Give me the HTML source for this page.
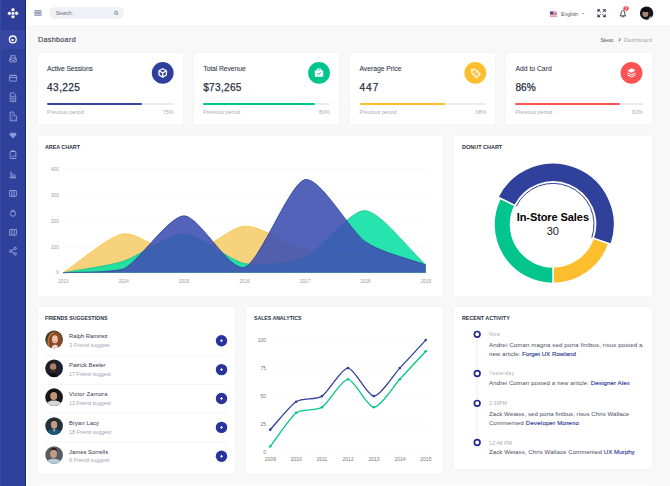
<!DOCTYPE html><html><head><meta charset="utf-8"><style>
*{margin:0;padding:0;box-sizing:border-box}
html,body{width:670px;height:486px;overflow:hidden;background:#f8f8f8;font-family:"Liberation Sans",sans-serif;position:relative}
.a{position:absolute;white-space:nowrap}
.card{position:absolute;background:#fff;box-shadow:0 0 2px rgba(40,40,60,.06)}
svg.full{position:absolute;left:0;top:0;width:670px;height:486px;overflow:visible}
</style></head><body>
<div class="a" style="left:0;top:0;width:26px;height:486px;background:#30419b"></div>
<div class="a" style="left:0;top:0;width:25px;height:29.5px;background:#2e3e98"></div>
<div class="a" style="left:0;top:29.5px;width:25px;height:19.5px;background:#3647a4"></div>
<div class="a" style="left:25px;top:0;width:1px;height:486px;background:#12268f"></div>
<div class="a" style="left:0;top:0;width:1px;height:486px;background:#3848a3"></div>
<div class="a" style="left:26px;top:0;width:2px;height:486px;background:#fff"></div>
<div class="a" style="left:26px;top:0;width:644px;height:26px;background:#fff;box-shadow:0 .5px 1.5px rgba(0,0,0,.05)"></div>
<div class="card" style="left:37.60px;top:52.90px;width:145.00px;height:71.60px"></div>
<div class="card" style="left:193.70px;top:52.90px;width:145.20px;height:71.60px"></div>
<div class="card" style="left:350.00px;top:52.90px;width:145.20px;height:71.60px"></div>
<div class="card" style="left:505.90px;top:52.90px;width:146.00px;height:71.60px"></div>
<div class="card" style="left:37.60px;top:136.10px;width:405.70px;height:159.90px"></div>
<div class="card" style="left:453.60px;top:136.10px;width:198.30px;height:159.90px"></div>
<div class="card" style="left:37.60px;top:307.00px;width:197.60px;height:166.60px"></div>
<div class="card" style="left:245.70px;top:307.00px;width:197.60px;height:166.60px"></div>
<div class="card" style="left:453.60px;top:307.00px;width:198.30px;height:162.40px"></div>
<div class="a" style="left:37.6px;top:484px;width:614.3px;height:4px;background:#fbfbfb;box-shadow:0 0 1.5px rgba(40,40,60,.06)"></div>
<div class="a" style="left:49px;top:7px;width:75.2px;height:12.4px;border-radius:6.2px;background:#eef1f6"></div>
<div class="a" style="left:55.70px;top:11.00px;font-size:5.40px;line-height:5.40px;color:#6f7585;font-weight:normal;letter-spacing:-0.187px;">Search..</div>
<div class="a" style="left:561.00px;top:12.00px;font-size:5.30px;line-height:5.30px;color:#555b6b;font-weight:normal;letter-spacing:-0.064px;">English</div>
<div class="a" style="left:37.90px;top:36.00px;font-size:7.20px;line-height:7.20px;color:#343a4c;font-weight:normal;letter-spacing:0.322px;-webkit-text-stroke:0.12px #343a4c;">Dashboard</div>
<div class="a" style="left:600.50px;top:38.00px;font-size:5.30px;line-height:5.30px;color:#50566a;font-weight:normal;letter-spacing:-0.188px;">Stexo</div>
<div class="a" style="left:624.00px;top:38.00px;font-size:5.30px;line-height:5.30px;color:#a0a4b2;font-weight:normal;letter-spacing:0.209px;">Dashboard</div>
<div class="a" style="left:47.10px;top:66.00px;font-size:6.80px;line-height:6.80px;color:#2a3142;font-weight:normal;letter-spacing:-0.150px;-webkit-text-stroke:0.05px #2a3142;">Active Sessions</div>
<div class="a" style="left:47.10px;top:83.00px;font-size:10.10px;line-height:10.10px;color:#2a3142;font-weight:normal;letter-spacing:0.402px;-webkit-text-stroke:0.25px #2a3142;">43,225</div>
<div class="a" style="left:47.10px;top:103.3px;width:126.50px;height:2px;background:#e9ecf3;border-radius:1px"></div>
<div class="a" style="left:47.10px;top:103.3px;width:94.88px;height:2px;background:#3546a6;border-radius:1px"></div>
<div class="a" style="left:47.10px;top:110.00px;font-size:5.40px;line-height:5.40px;color:#a9adba;font-weight:normal;letter-spacing:-0.037px;">Previous period</div>
<div class="a" style="right:496.40px;top:110.00px;font-size:5.40px;line-height:5.40px;color:#a9adba;font-weight:normal;letter-spacing:0.000px;">75%</div>
<div class="a" style="left:203.20px;top:66.00px;font-size:6.80px;line-height:6.80px;color:#2a3142;font-weight:normal;letter-spacing:-0.073px;-webkit-text-stroke:0.05px #2a3142;">Total Revenue</div>
<div class="a" style="left:203.20px;top:83.00px;font-size:10.10px;line-height:10.10px;color:#2a3142;font-weight:normal;letter-spacing:0.299px;-webkit-text-stroke:0.25px #2a3142;">$73,265</div>
<div class="a" style="left:203.20px;top:103.3px;width:126.70px;height:2px;background:#e9ecf3;border-radius:1px"></div>
<div class="a" style="left:203.20px;top:103.3px;width:112.00px;height:2px;background:#02c58d;border-radius:1px"></div>
<div class="a" style="left:203.20px;top:110.00px;font-size:5.40px;line-height:5.40px;color:#a9adba;font-weight:normal;letter-spacing:-0.037px;">Previous period</div>
<div class="a" style="right:340.10px;top:110.00px;font-size:5.40px;line-height:5.40px;color:#a9adba;font-weight:normal;letter-spacing:0.000px;">80%</div>
<div class="a" style="left:359.50px;top:66.00px;font-size:6.80px;line-height:6.80px;color:#2a3142;font-weight:normal;letter-spacing:-0.040px;-webkit-text-stroke:0.05px #2a3142;">Average Price</div>
<div class="a" style="left:359.50px;top:83.00px;font-size:10.10px;line-height:10.10px;color:#2a3142;font-weight:normal;letter-spacing:0.975px;-webkit-text-stroke:0.25px #2a3142;">447</div>
<div class="a" style="left:359.50px;top:103.3px;width:126.70px;height:2px;background:#e9ecf3;border-radius:1px"></div>
<div class="a" style="left:359.50px;top:103.3px;width:85.90px;height:2px;background:#fcbe2d;border-radius:1px"></div>
<div class="a" style="left:359.50px;top:110.00px;font-size:5.40px;line-height:5.40px;color:#a9adba;font-weight:normal;letter-spacing:-0.037px;">Previous period</div>
<div class="a" style="right:183.80px;top:110.00px;font-size:5.40px;line-height:5.40px;color:#a9adba;font-weight:normal;letter-spacing:0.000px;">68%</div>
<div class="a" style="left:515.40px;top:66.00px;font-size:6.80px;line-height:6.80px;color:#2a3142;font-weight:normal;letter-spacing:0.001px;-webkit-text-stroke:0.05px #2a3142;">Add to Card</div>
<div class="a" style="left:515.40px;top:83.00px;font-size:10.10px;line-height:10.10px;color:#2a3142;font-weight:normal;letter-spacing:0.043px;-webkit-text-stroke:0.25px #2a3142;">86%</div>
<div class="a" style="left:515.40px;top:103.3px;width:127.50px;height:2px;background:#e9ecf3;border-radius:1px"></div>
<div class="a" style="left:515.40px;top:103.3px;width:105.06px;height:2px;background:#fc5454;border-radius:1px"></div>
<div class="a" style="left:515.40px;top:110.00px;font-size:5.40px;line-height:5.40px;color:#a9adba;font-weight:normal;letter-spacing:-0.037px;">Previous period</div>
<div class="a" style="right:27.10px;top:110.00px;font-size:5.40px;line-height:5.40px;color:#a9adba;font-weight:normal;letter-spacing:0.000px;">82%</div>
<div class="a" style="left:45.20px;top:144.00px;font-size:6.20px;line-height:6.20px;color:#2a3142;font-weight:bold;letter-spacing:0.000px;transform:scaleX(0.8587);transform-origin:0 0;">AREA CHART</div>
<div class="a" style="left:462.00px;top:144.00px;font-size:6.20px;line-height:6.20px;color:#2a3142;font-weight:bold;letter-spacing:0.000px;transform:scaleX(0.8865);transform-origin:0 0;">DONUT CHART</div>
<div class="a" style="left:45.20px;top:315.00px;font-size:6.20px;line-height:6.20px;color:#2a3142;font-weight:bold;letter-spacing:0.000px;transform:scaleX(0.8399);transform-origin:0 0;">FRIENDS SUGGESTIONS</div>
<div class="a" style="left:254.00px;top:315.00px;font-size:6.20px;line-height:6.20px;color:#2a3142;font-weight:bold;letter-spacing:0.000px;transform:scaleX(0.8323);transform-origin:0 0;">SALES ANALYTICS</div>
<div class="a" style="left:462.20px;top:315.00px;font-size:6.20px;line-height:6.20px;color:#2a3142;font-weight:bold;letter-spacing:0.000px;transform:scaleX(0.8655);transform-origin:0 0;">RECENT ACTIVITY</div>
<div class="a" style="right:611.20px;top:271.00px;font-size:4.70px;line-height:4.70px;color:#9a9a9a;font-weight:normal;letter-spacing:0.000px;">0</div>
<div class="a" style="right:611.20px;top:246.00px;font-size:4.70px;line-height:4.70px;color:#9a9a9a;font-weight:normal;letter-spacing:0.000px;">100</div>
<div class="a" style="right:611.20px;top:220.00px;font-size:4.70px;line-height:4.70px;color:#9a9a9a;font-weight:normal;letter-spacing:0.000px;">200</div>
<div class="a" style="right:611.20px;top:194.00px;font-size:4.70px;line-height:4.70px;color:#9a9a9a;font-weight:normal;letter-spacing:0.000px;">300</div>
<div class="a" style="right:611.20px;top:168.00px;font-size:4.70px;line-height:4.70px;color:#9a9a9a;font-weight:normal;letter-spacing:0.000px;">400</div>
<div class="a" style="left:58.20px;top:280.00px;font-size:4.60px;line-height:4.60px;color:#9a9a9a;font-weight:normal;letter-spacing:0.000px;">2013</div>
<div class="a" style="left:118.65px;top:280.00px;font-size:4.60px;line-height:4.60px;color:#9a9a9a;font-weight:normal;letter-spacing:0.000px;">2014</div>
<div class="a" style="left:179.10px;top:280.00px;font-size:4.60px;line-height:4.60px;color:#9a9a9a;font-weight:normal;letter-spacing:0.000px;">2015</div>
<div class="a" style="left:239.55px;top:280.00px;font-size:4.60px;line-height:4.60px;color:#9a9a9a;font-weight:normal;letter-spacing:0.000px;">2016</div>
<div class="a" style="left:300.00px;top:280.00px;font-size:4.60px;line-height:4.60px;color:#9a9a9a;font-weight:normal;letter-spacing:0.000px;">2017</div>
<div class="a" style="left:360.45px;top:280.00px;font-size:4.60px;line-height:4.60px;color:#9a9a9a;font-weight:normal;letter-spacing:0.000px;">2018</div>
<div class="a" style="left:420.90px;top:280.00px;font-size:4.60px;line-height:4.60px;color:#9a9a9a;font-weight:normal;letter-spacing:0.000px;">2019</div>
<div class="a" style="left:516.70px;top:212.00px;font-size:11.00px;line-height:11.00px;color:#000;font-weight:bold;letter-spacing:-0.081px;">In-Store Sales</div>
<div class="a" style="left:546.70px;top:226.00px;font-size:11.00px;line-height:11.00px;color:#222;font-weight:normal;letter-spacing:0.066px;">30</div>
<div class="a" style="left:69.10px;top:334.00px;font-size:5.80px;line-height:5.80px;color:#41475a;font-weight:normal;letter-spacing:-0.005px;-webkit-text-stroke:0.04px #41475a;">Ralph Ramirez</div>
<div class="a" style="left:69.10px;top:343.00px;font-size:5.40px;line-height:5.40px;color:#a3a7b5;font-weight:normal;letter-spacing:0.025px;">3 Friend suggest</div>
<div class="a" style="left:69.10px;top:363.00px;font-size:5.80px;line-height:5.80px;color:#41475a;font-weight:normal;letter-spacing:0.023px;-webkit-text-stroke:0.04px #41475a;">Patrick Beeler</div>
<div class="a" style="left:69.10px;top:372.00px;font-size:5.40px;line-height:5.40px;color:#a3a7b5;font-weight:normal;letter-spacing:-0.095px;">17 Friend suggest</div>
<div class="a" style="left:69.10px;top:392.00px;font-size:5.80px;line-height:5.80px;color:#41475a;font-weight:normal;letter-spacing:0.166px;-webkit-text-stroke:0.04px #41475a;">Victor Zamora</div>
<div class="a" style="left:69.10px;top:401.00px;font-size:5.40px;line-height:5.40px;color:#a3a7b5;font-weight:normal;letter-spacing:-0.095px;">12 Friend suggest</div>
<div class="a" style="left:69.10px;top:421.00px;font-size:5.80px;line-height:5.80px;color:#41475a;font-weight:normal;letter-spacing:0.099px;-webkit-text-stroke:0.04px #41475a;">Bryan Lacy</div>
<div class="a" style="left:69.10px;top:430.00px;font-size:5.40px;line-height:5.40px;color:#a3a7b5;font-weight:normal;letter-spacing:-0.070px;">18 Friend suggest</div>
<div class="a" style="left:69.10px;top:450.00px;font-size:5.80px;line-height:5.80px;color:#41475a;font-weight:normal;letter-spacing:0.050px;-webkit-text-stroke:0.04px #41475a;">James Sorrells</div>
<div class="a" style="left:69.10px;top:458.00px;font-size:5.40px;line-height:5.40px;color:#a3a7b5;font-weight:normal;letter-spacing:0.025px;">6 Friend suggest</div>
<div class="a" style="right:404.00px;top:450.00px;font-size:5.00px;line-height:5.00px;color:#777;font-weight:normal;letter-spacing:0.000px;">0</div>
<div class="a" style="right:404.00px;top:422.00px;font-size:5.00px;line-height:5.00px;color:#777;font-weight:normal;letter-spacing:0.000px;">25</div>
<div class="a" style="right:404.00px;top:394.00px;font-size:5.00px;line-height:5.00px;color:#777;font-weight:normal;letter-spacing:0.000px;">50</div>
<div class="a" style="right:404.00px;top:366.00px;font-size:5.00px;line-height:5.00px;color:#777;font-weight:normal;letter-spacing:0.000px;">75</div>
<div class="a" style="right:404.00px;top:338.00px;font-size:5.00px;line-height:5.00px;color:#777;font-weight:normal;letter-spacing:0.000px;">100</div>
<div class="a" style="left:264.80px;top:457.00px;font-size:5.00px;line-height:5.00px;color:#777;font-weight:normal;letter-spacing:0.000px;">2009</div>
<div class="a" style="left:290.72px;top:457.00px;font-size:5.00px;line-height:5.00px;color:#777;font-weight:normal;letter-spacing:0.000px;">2010</div>
<div class="a" style="left:316.64px;top:457.00px;font-size:5.00px;line-height:5.00px;color:#777;font-weight:normal;letter-spacing:0.000px;">2011</div>
<div class="a" style="left:342.56px;top:457.00px;font-size:5.00px;line-height:5.00px;color:#777;font-weight:normal;letter-spacing:0.000px;">2012</div>
<div class="a" style="left:368.48px;top:457.00px;font-size:5.00px;line-height:5.00px;color:#777;font-weight:normal;letter-spacing:0.000px;">2013</div>
<div class="a" style="left:394.40px;top:457.00px;font-size:5.00px;line-height:5.00px;color:#777;font-weight:normal;letter-spacing:0.000px;">2014</div>
<div class="a" style="left:420.32px;top:457.00px;font-size:5.00px;line-height:5.00px;color:#777;font-weight:normal;letter-spacing:0.000px;">2015</div>
<div class="a" style="left:489.20px;top:333.00px;font-size:4.80px;line-height:4.80px;color:#a2a6b3;font-weight:normal;letter-spacing:0.599px;">Now</div>
<div class="a" style="left:489.00px;top:342.00px;font-size:6.10px;line-height:6.10px;color:#50566a;font-weight:normal;letter-spacing:0.125px;-webkit-text-stroke:0.03px #50566a;">Andrei Coman magna sed porta finibus, risus posted a</div>
<div class="a" style="left:489.00px;top:351.00px;font-size:6.10px;line-height:6.10px;color:#50566a;font-weight:normal;letter-spacing:0.042px;-webkit-text-stroke:0.03px #50566a;">new article: <span style="color:#30419b;-webkit-text-stroke:.15px #30419b">Forget UX Rowland</span></div>
<div class="a" style="left:489.20px;top:372.00px;font-size:4.80px;line-height:4.80px;color:#a2a6b3;font-weight:normal;letter-spacing:0.429px;">Yesterday</div>
<div class="a" style="left:489.00px;top:380.00px;font-size:6.10px;line-height:6.10px;color:#50566a;font-weight:normal;letter-spacing:0.103px;-webkit-text-stroke:0.03px #50566a;">Andrei Coman posted a new article: <span style="color:#30419b;-webkit-text-stroke:.15px #30419b">Designer Alex</span></div>
<div class="a" style="left:489.20px;top:402.00px;font-size:4.80px;line-height:4.80px;color:#a2a6b3;font-weight:normal;letter-spacing:0.192px;">2:30PM</div>
<div class="a" style="left:489.00px;top:411.00px;font-size:6.10px;line-height:6.10px;color:#50566a;font-weight:normal;letter-spacing:0.031px;-webkit-text-stroke:0.03px #50566a;">Zack Wetass, sed porta finibus, risus Chris Wallace</div>
<div class="a" style="left:489.00px;top:420.00px;font-size:6.10px;line-height:6.10px;color:#50566a;font-weight:normal;letter-spacing:0.196px;-webkit-text-stroke:0.03px #50566a;">Commented <span style="color:#30419b;-webkit-text-stroke:.15px #30419b">Developer Moreno</span></div>
<div class="a" style="left:489.20px;top:442.00px;font-size:4.80px;line-height:4.80px;color:#a2a6b3;font-weight:normal;letter-spacing:0.279px;">12:48 PM</div>
<div class="a" style="left:489.00px;top:449.00px;font-size:6.10px;line-height:6.10px;color:#50566a;font-weight:normal;letter-spacing:0.061px;-webkit-text-stroke:0.03px #50566a;">Zack Wetass, Chris Wallace Commented <span style="color:#30419b;-webkit-text-stroke:.15px #30419b">UX Murphy</span></div>
<svg class="full" width="670" height="486" viewBox="0 0 670 486"><g fill="#fff" stroke="#1d2a88" stroke-width=".7"><circle cx="13" cy="9.9" r="2.1"/><circle cx="9.5" cy="13.3" r="2.1"/><circle cx="16.5" cy="13.3" r="2.1"/><circle cx="13" cy="16.7" r="2.1"/><circle cx="13" cy="13.3" r="1.9"/></g><circle cx="12.8" cy="39.4" r="3.4" fill="none" stroke="#fff" stroke-width="1.3"/><circle cx="12.4" cy="39.9" r="1.2" fill="#fff"/><g transform="translate(13,58.65)" fill="none" stroke="rgba(215,220,255,.55)" stroke-width="1"><rect x="-3.3" y="-0.6" width="6.6" height="3.8" rx=".6"/><path d="M-2.1 -0.6v-2.4h4.2v2.4M-3.3 1h2l.6 .8h1.4l.6-.8h2"/></g><g transform="translate(13,77.90)" fill="none" stroke="rgba(215,220,255,.55)" stroke-width="1"><rect x="-3.4" y="-2.4" width="6.8" height="5.6" rx=".5"/><path d="M-3.4 -0.4h6.8M-1.6 -3.6v1.4M1.6 -3.6v1.4"/></g><g transform="translate(13,97.15)" fill="none" stroke="rgba(215,220,255,.55)" stroke-width="1"><path d="M-2.7 -4.2h3.6l1.8 1.8v6.8h-5.4z M-1.6 -0.8h3.2M-1.6 1h3.2M-1.6 2.8h3.2"/></g><g transform="translate(13,116.40)" fill="none" stroke="rgba(215,220,255,.55)" stroke-width="1"><path d="M-2.8 4.4v-8.8h3l1 2v2h2.4v4.8zM-1.4 -1.8h1.2M-1.4 .4h1.2M-1.4 2.6h1.2M1.6 2.6h1"/></g><g transform="translate(13,135.65)" fill="rgba(215,220,255,.55)"><path d="M-3.8 -1.2l3.8 4 3.8-4-1.4-1.6h-4.8z"/></g><g transform="translate(13,154.90)" fill="none" stroke="rgba(215,220,255,.55)" stroke-width="1"><rect x="-2.8" y="-3.4" width="5.6" height="7" rx=".6"/><path d="M-1.2 -3.4v-.8h2.4v.8M-1.2 1.2l1.2 1 1.4-2"/></g><g transform="translate(13,174.15)" fill="none" stroke="rgba(215,220,255,.55)" stroke-width="1"><path d="M-3.3 3.4h6.6M-2 3v-5.6M0 3v-3.6M2 3v-2.4" stroke-width="1.2"/></g><g transform="translate(13,193.40)" fill="none" stroke="rgba(215,220,255,.55)" stroke-width="1"><rect x="-3.4" y="-2.9" width="6.8" height="5.8" rx=".4"/><path d="M-1.1 -2.9v5.8M1.1 -2.9v5.8"/></g><g transform="translate(13,212.65)" fill="none" stroke="rgba(215,220,255,.55)" stroke-width="1"><circle cx="0" cy="1" r="2.6"/><path d="M-1.4 -2.8l1.4 1.2 1.4-1.2"/></g><g transform="translate(13,231.90)" fill="none" stroke="rgba(215,220,255,.55)" stroke-width="1"><path d="M-3.4 -2l2.2-.8 2.4 .8 2.2-.8v5.6l-2.2 .8-2.4-.8-2.2 .8zM-1.2 -2.8v5.6M1.2 -2v5.6"/></g><g transform="translate(13,251.15)" fill="none" stroke="rgba(215,220,255,.55)" stroke-width="1"><circle cx="2.2" cy="-2.8" r="1.2"/><circle cx="-2.2" cy="0" r="1.2"/><circle cx="2.2" cy="2.8" r="1.2"/><path d="M-1.2 -.6l2.4-1.6M-1.2 .6l2.4 1.6"/></g><g fill="#8790b8"><rect x="34.3" y="10.2" width="7.3" height="1.1"/><rect x="34.3" y="11.7" width="7.3" height="1.1"/><rect x="34.3" y="13.2" width="7.3" height="1.1"/><rect x="34.3" y="14.7" width="7.3" height="1.1"/></g><circle cx="116" cy="12.7" r="1.5" fill="none" stroke="#6a7080" stroke-width=".75"/><path d="M117.1 13.8l1.2 1.2" stroke="#6a7080" stroke-width=".8"/><g><rect x="550" y="11.6" width="7" height="4.9" fill="#e9eef8"/><rect x="550" y="11.6" width="7" height=".7" fill="#e0414f"/><rect x="550" y="13" width="7" height=".7" fill="#e0414f"/><rect x="550" y="14.4" width="7" height=".7" fill="#e0414f"/><rect x="550" y="15.8" width="7" height=".7" fill="#e0414f"/><rect x="550" y="11.6" width="3.2" height="2.6" fill="#3c4fa8"/></g><path d="M581.8 12.8l1.2 1.2 1.2-1.2" fill="none" stroke="#7a7f8f" stroke-width=".7"/><g fill="#2a3142" stroke="#2a3142" stroke-width=".9" stroke-linecap="round"><path d="M598.4 10l2 2M604.8 10l-2 2M598.4 16.4l2-2M604.8 16.4l-2-2" fill="none"/><path d="M597.9 9.5h2.2l-2.2 2.2z M605.3 9.5h-2.2l2.2 2.2z M597.9 16.9h2.2l-2.2-2.2z M605.3 16.9h-2.2l2.2-2.2z" stroke-width=".5"/></g><path d="M620 15.9h5.8c-.8-.7-1.1-1.6-1.1-2.9 0-1.4-.7-2.3-1.8-2.5-1.1.2-1.8 1.1-1.8 2.5 0 1.3-.3 2.2-1.1 2.9zM622.2 16.5a.7 .7 0 0 0 1.4 0" fill="none" stroke="#2a3142" stroke-width=".9"/><ellipse cx="626" cy="8.5" rx="2.7" ry="2.3" fill="#f0454e"/><text x="626" y="9.8" font-size="3.2" fill="#fff" text-anchor="middle" font-family="Liberation Sans" font-weight="bold">3</text><clipPath id="hav"><circle cx="646.6" cy="13.1" r="6.7"/></clipPath><g clip-path="url(#hav)"><rect x="639" y="6" width="15" height="15" fill="#15161b"/><ellipse cx="645.4" cy="13.6" rx="2.9" ry="3.5" fill="#a88474"/><ellipse cx="645.6" cy="10" rx="3.6" ry="2" fill="#0c0c10"/><path d="M647 21l3-4.5 3 .5 1 4z" fill="#c8cad2"/></g><path d="M618.9 38.2l1.5 1.5-1.5 1.5" fill="none" stroke="#3a4052" stroke-width=".9"/><circle cx="162.70" cy="72.9" r="10.9" fill="#2f3f9c"/><circle cx="319.00" cy="72.9" r="10.9" fill="#02c58d"/><circle cx="475.30" cy="72.9" r="10.9" fill="#fcbe2d"/><circle cx="631.50" cy="72.9" r="10.9" fill="#fc5454"/><g transform="translate(162.70,72.9)" fill="none" stroke="#fff" stroke-width="1.3" stroke-linejoin="round"><path d="M0 -4.2l3.7 2.1v4.2L0 4.2l-3.7-2.1v-4.2z"/><path d="M-3.7 -2.1L0 0l3.7-2.1M0 0v4.2"/></g><g transform="translate(319.00,72.9)"><rect x="-4.2" y="-2.6" width="8.4" height="6.4" rx=".8" fill="#fff"/><path d="M-1.6 -2.6v-1.4h3.2v1.4" fill="none" stroke="#fff" stroke-width="1"/><path d="M-1.8 0.6l1.2 1.2 2.4-2.4" fill="none" stroke="#02c58d" stroke-width="1"/></g><g transform="translate(475.30,72.9) rotate(135)"><path d="M-2.6 -4.4h5.2v6.6l-2.6 2.8-2.6-2.8z" fill="none" stroke="#fff" stroke-width="1.1" stroke-linejoin="round"/><rect x="-1.5" y="-2.6" width="3" height="3" fill="none" stroke="#fff" stroke-width=".7"/><circle cx="0" cy="3" r=".6" fill="#fff"/></g><g transform="translate(631.50,72.5)" fill="#fff"><path d="M0 -4.2l4 2L0 0.2l-4-2z"/><path d="M-4 0.4l4 2 4-2" fill="none" stroke="#fff" stroke-width="1"/><path d="M-4 2.4l4 2 4-2" fill="none" stroke="#fff" stroke-width="1"/></g><path d="M61 272.80H426" stroke="#f0f0f0" stroke-width=".5"/><path d="M61 246.90H426" stroke="#f0f0f0" stroke-width=".5"/><path d="M61 221.00H426" stroke="#f0f0f0" stroke-width=".5"/><path d="M61 195.10H426" stroke="#f0f0f0" stroke-width=".5"/><path d="M61 169.20H426" stroke="#f0f0f0" stroke-width=".5"/><path d="M63.10,272.80C78.21,263.09,108.44,235.89,123.55,233.95C138.66,232.01,168.89,258.23,184.00,257.26C199.11,256.29,229.34,227.15,244.45,226.18C259.56,225.21,289.79,246.09,304.90,249.49C320.01,252.89,350.24,251.43,365.35,253.38C380.46,255.32,410.69,262.12,425.80,265.03L425.80,272.80L63.10,272.80Z" fill="#f5cd6e" fill-opacity=".9"/><path d="M63.10,272.80C78.21,263.09,108.44,235.89,123.55,233.95C138.66,232.01,168.89,258.23,184.00,257.26C199.11,256.29,229.34,227.15,244.45,226.18C259.56,225.21,289.79,246.09,304.90,249.49C320.01,252.89,350.24,251.43,365.35,253.38C380.46,255.32,410.69,262.12,425.80,265.03" fill="none" stroke="#fcbe2d" stroke-width=".8"/><path d="M63.10,272.80C78.21,269.89,108.44,266.00,123.55,261.14C138.66,256.29,168.89,233.66,184.00,233.95C199.11,234.24,229.34,260.56,244.45,263.48C259.56,266.39,289.79,263.86,304.90,257.26C320.01,250.66,350.24,209.67,365.35,210.64C380.46,211.61,410.69,251.43,425.80,265.03L425.80,272.80L63.10,272.80Z" fill="#0fe1a6" fill-opacity=".9"/><path d="M63.10,272.80C78.21,269.89,108.44,266.00,123.55,261.14C138.66,256.29,168.89,233.66,184.00,233.95C199.11,234.24,229.34,260.56,244.45,263.48C259.56,266.39,289.79,263.86,304.90,257.26C320.01,250.66,350.24,209.67,365.35,210.64C380.46,211.61,410.69,251.43,425.80,265.03" fill="none" stroke="#02c58d" stroke-width=".8"/><path d="M63.10,272.80C78.21,271.83,108.44,272.80,123.55,268.92C138.66,261.79,168.89,216.01,184.00,215.82C199.11,215.63,229.34,271.89,244.45,267.36C259.56,262.83,289.79,182.77,304.90,179.56C320.01,176.35,350.24,231.04,365.35,241.72C380.46,252.40,410.69,259.20,425.80,265.03L425.80,272.80L63.10,272.80Z" fill="#4052b3" fill-opacity=".9"/><path d="M63.10,272.80C78.21,271.83,108.44,272.80,123.55,268.92C138.66,261.79,168.89,216.01,184.00,215.82C199.11,215.63,229.34,271.89,244.45,267.36C259.56,262.83,289.79,182.77,304.90,179.56C320.01,176.35,350.24,231.04,365.35,241.72C380.46,252.40,410.69,259.20,425.80,265.03" fill="none" stroke="#30419b" stroke-width=".8"/><path d="M553.00,266.90A42.50,42.50,0,0,0,593.22,238.14L608.83,243.47A59.00,59.00,0,0,1,553.00,283.40Z" fill="#fcbe2d" stroke="#fff" stroke-width="1.5"/><path d="M593.22,238.14A42.50,42.50,0,0,0,514.88,205.60L497.84,197.20A61.50,61.50,0,0,1,611.20,244.28Z" fill="#30419b" stroke="#fff" stroke-width="1.5"/><path d="M591.80,237.65A41.00,41.00,0,0,0,516.23,206.26" fill="none" stroke="#30419b" stroke-width="1"/><path d="M514.88,205.60A42.50,42.50,0,0,0,552.99,266.90L552.98,283.40A59.00,59.00,0,0,1,500.09,198.30Z" fill="#02c58d" stroke="#fff" stroke-width="1.5"/><clipPath id="av0"><circle cx="0" cy="0" r="8.85"/></clipPath><g clip-path="url(#av0)" transform="translate(54.10,339.40)"><rect x="-10" y="-10" width="20" height="20" fill="#34403a"/><path d="M-6.5 10C-8.5 2-6-8 0.5-8S8.5-3 7.5 3 6.5 10 6.5 10z" fill="#8a4a26"/><path d="M-5.5 6C-6.5 0-5-6 0-6.5" fill="none" stroke="#c07840" stroke-width="1.2"/><ellipse cx="0.8" cy="-0.2" rx="2.9" ry="4" fill="#eec4ab"/><ellipse cx="1" cy="2.2" rx="1" ry=".5" fill="#d77a88"/><path d="M-3 10c1-3.6 2.4-4.6 4-4.6s3 1 4 4.6z" fill="#efd9cc"/></g><circle cx="221.5" cy="340.70" r="5.7" fill="#28349b"/><path d="M221.5 339.30v2.8M220.1 340.70h2.8" stroke="#fff" stroke-width=".9"/><path d="M45.2 355.50H227.3" stroke="#eceef3" stroke-width=".6"/><clipPath id="av1"><circle cx="0" cy="0" r="8.85"/></clipPath><g clip-path="url(#av1)" transform="translate(54.10,368.30)"><rect x="-10" y="-10" width="20" height="20" fill="#1b1e2c"/><ellipse cx="-1" cy="-1" rx="3.2" ry="4.2" fill="#a98068"/><path d="M-4.2 -3.2c0-2.5 1.5-3.8 3.4-3.8s3.2 1.2 3.2 3.6c-1-1.2-2.2-1.6-3.2-1.6s-2.4.6-3.4 1.8z" fill="#2a201c"/><path d="M-4 0c0 3 1.2 4.5 3 4.5s3-1.5 3.2-4.5c-.8 1-1.8 1.4-3.2 1.4S-3.2 1-4 0z" fill="#3a2a22"/><path d="M-6 10c1-3.5 3-5 5-5s4 1.5 6 5z" fill="#0d0d12"/></g><circle cx="221.5" cy="369.60" r="5.7" fill="#28349b"/><path d="M221.5 368.20v2.8M220.1 369.60h2.8" stroke="#fff" stroke-width=".9"/><path d="M45.2 384.40H227.3" stroke="#eceef3" stroke-width=".6"/><clipPath id="av2"><circle cx="0" cy="0" r="8.85"/></clipPath><g clip-path="url(#av2)" transform="translate(54.10,397.20)"><rect x="-10" y="-10" width="20" height="20" fill="#19191b"/><ellipse cx="-0.4" cy="-1.2" rx="3.5" ry="4" fill="#c49474"/><path d="M-4.4-3.4c.2-2.6 2-4.2 4.2-4.2s3.8 1.6 3.8 4c-1.2-1.2-2.4-1.6-3.8-1.6s-3 .6-4.2 1.8z" fill="#0f0f10"/><path d="M-9 10c1-5 4-6.6 8.6-6.6S8 5 9 10z" fill="#d6d6da"/></g><circle cx="221.5" cy="398.50" r="5.7" fill="#28349b"/><path d="M221.5 397.10v2.8M220.1 398.50h2.8" stroke="#fff" stroke-width=".9"/><path d="M45.2 413.30H227.3" stroke="#eceef3" stroke-width=".6"/><clipPath id="av3"><circle cx="0" cy="0" r="8.85"/></clipPath><g clip-path="url(#av3)" transform="translate(54.10,426.10)"><rect x="-10" y="-10" width="20" height="20" fill="#24323c"/><ellipse cx="0" cy="-1.4" rx="3.1" ry="4.1" fill="#c89c84"/><path d="M-3.6-3.8c.2-2.2 1.6-3.4 3.6-3.4s3.4 1.2 3.6 3.4c-1-.9-2.2-1.3-3.6-1.3s-2.6.4-3.6 1.3z" fill="#2b2320"/><path d="M-9 10c1-5 4.5-6.8 9-6.8S8 5 9 10z" fill="#1d5778"/><path d="M-1 3.5l1 2.5 1-2.5z" fill="#e8e8ea"/></g><circle cx="221.5" cy="427.40" r="5.7" fill="#28349b"/><path d="M221.5 426.00v2.8M220.1 427.40h2.8" stroke="#fff" stroke-width=".9"/><path d="M45.2 442.20H227.3" stroke="#eceef3" stroke-width=".6"/><clipPath id="av4"><circle cx="0" cy="0" r="8.85"/></clipPath><g clip-path="url(#av4)" transform="translate(54.10,455.00)"><rect x="-10" y="-10" width="20" height="20" fill="#585c5e"/><ellipse cx="-0.6" cy="-1.2" rx="3.4" ry="4.3" fill="#c29c86"/><path d="M-4-3.6c.2-2.4 1.8-3.6 3.6-3.6s3.4 1.2 3.6 3.4c-1-.8-2.2-1.2-3.6-1.2s-2.6.5-3.6 1.4z" fill="#272220"/><path d="M-9 10c1-4.6 4.2-6.2 8.4-6.2S8 5.4 9 10z" fill="#b7cad6"/></g><circle cx="221.5" cy="456.30" r="5.7" fill="#28349b"/><path d="M221.5 454.90v2.8M220.1 456.30h2.8" stroke="#fff" stroke-width=".9"/><path d="M269 452.10H430" stroke="#f2f2f2" stroke-width=".5"/><path d="M269 424.10H430" stroke="#f2f2f2" stroke-width=".5"/><path d="M269 396.10H430" stroke="#f2f2f2" stroke-width=".5"/><path d="M269 368.10H430" stroke="#f2f2f2" stroke-width=".5"/><path d="M269 340.10H430" stroke="#f2f2f2" stroke-width=".5"/><path d="M270.20,429.70C276.68,422.70,289.64,405.90,296.12,401.70C302.60,397.50,315.56,400.30,322.04,396.10C328.52,391.90,341.48,368.10,347.96,368.10C354.44,368.10,367.40,396.10,373.88,396.10C380.36,396.10,393.32,375.10,399.80,368.10C406.28,361.10,419.24,347.10,425.72,340.10" fill="none" stroke="#30419b" stroke-width="1.3"/><circle cx="270.20" cy="429.70" r="1.3" fill="#30419b"/><circle cx="296.12" cy="401.70" r="1.3" fill="#30419b"/><circle cx="322.04" cy="396.10" r="1.3" fill="#30419b"/><circle cx="347.96" cy="368.10" r="1.3" fill="#30419b"/><circle cx="373.88" cy="396.10" r="1.3" fill="#30419b"/><circle cx="399.80" cy="368.10" r="1.3" fill="#30419b"/><circle cx="425.72" cy="340.10" r="1.3" fill="#30419b"/><path d="M270.20,446.50C276.68,438.10,289.64,417.80,296.12,412.90C302.60,408.00,315.56,411.50,322.04,407.30C328.52,403.10,341.48,379.30,347.96,379.30C354.44,379.30,367.40,407.30,373.88,407.30C380.36,407.30,393.32,386.30,399.80,379.30C406.28,372.30,419.24,358.30,425.72,351.30" fill="none" stroke="#02c58d" stroke-width="1.3"/><circle cx="270.20" cy="446.50" r="1.3" fill="#02c58d"/><circle cx="296.12" cy="412.90" r="1.3" fill="#02c58d"/><circle cx="322.04" cy="407.30" r="1.3" fill="#02c58d"/><circle cx="347.96" cy="379.30" r="1.3" fill="#02c58d"/><circle cx="373.88" cy="407.30" r="1.3" fill="#02c58d"/><circle cx="399.80" cy="379.30" r="1.3" fill="#02c58d"/><circle cx="425.72" cy="351.30" r="1.3" fill="#02c58d"/><path d="M477.2 334.3V442.3" stroke="#dfe2ee" stroke-width=".6"/><circle cx="477.2" cy="334.30" r="2.8" fill="#fff" stroke="#1f2a8a" stroke-width="1.7"/><circle cx="477.2" cy="373.50" r="2.8" fill="#fff" stroke="#1f2a8a" stroke-width="1.7"/><circle cx="477.2" cy="403.30" r="2.8" fill="#fff" stroke="#1f2a8a" stroke-width="1.7"/><circle cx="477.2" cy="442.50" r="2.8" fill="#fff" stroke="#1f2a8a" stroke-width="1.7"/></svg>
</body></html>
